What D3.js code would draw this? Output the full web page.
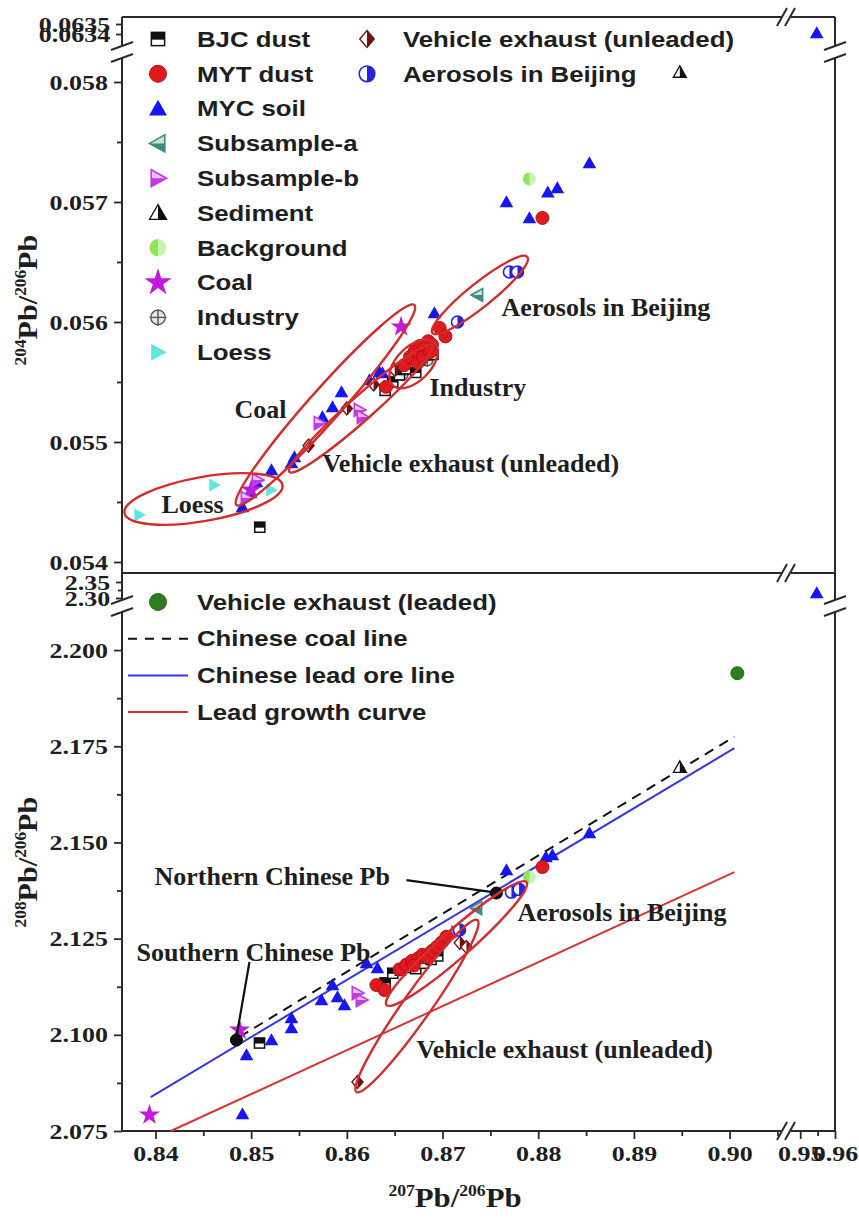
<!DOCTYPE html>
<html>
<head>
<meta charset="utf-8">
<script src="https://cdn.jsdelivr.net/npm/d3@7/dist/d3.min.js"></script>
<style>
  html, body { margin: 0; padding: 0; background: #ffffff; }
  svg { display: block; }
</style>
</head>
<body>
<svg id="chart" width="859" height="1226"></svg>
<script>
// ---------- tick values ----------
const xTicksLow  = [0.84, 0.85, 0.86, 0.87, 0.88, 0.89, 0.90];
const xMinorLow  = [0.845, 0.855, 0.865, 0.875, 0.885, 0.895, 0.905];
const xTicksHigh = [0.95, 0.96];
const xMinorHigh = [0.955];
const y204Ticks     = [0.054, 0.055, 0.056, 0.057, 0.058];
const y204Minor     = [0.0545, 0.0555, 0.0565, 0.0575];
const y204HighTicks = [0.0634, 0.0635];
const y208Ticks     = [2.075, 2.100, 2.125, 2.150, 2.175, 2.200];
const y208Minor     = [2.0875, 2.1125, 2.1375, 2.1625, 2.1875];
const y208HighTicks = [2.30, 2.35];
const y208HighMinor = [2.325];

// ---------- 207Pb/206Pb vs 204Pb/206Pb ----------
const bjcDust204 = [[0.8509,0.05429],[0.8640,0.05543],[0.8648,0.05550],[0.8655,0.05556],[0.8662,0.05561],
  [0.8668,0.05566],[0.8676,0.05569],[0.8683,0.05576],[0.8690,0.05573],[0.8672,0.05558]];
const mytDust204 = [[0.88044,0.056867],[0.8641,0.05546],[0.8660,0.05564],[0.8666,0.05571],[0.8671,0.05576],
  [0.8676,0.05580],[0.8681,0.05578],[0.8685,0.05584],[0.8689,0.05581],[0.8674,0.05566],[0.8680,0.05571],
  [0.8687,0.05575],[0.8697,0.05595],[0.8703,0.05588]];
const mycSoil204 = [[0.95475,0.06341],[0.88535,0.057325],[0.8820,0.057117],[0.8810,0.05708],[0.87668,0.05700],
  [0.87908,0.056867],[0.86915,0.056075],[0.86372,0.055575],[0.86341,0.055583],[0.86236,0.055517],
  [0.85944,0.055417],[0.8585,0.055292],[0.85745,0.055208],[0.85452,0.054875],[0.85421,0.054825],
  [0.85212,0.054767],[0.85055,0.054667],[0.84982,0.054575],[0.84909,0.054458]];
const subsampleA204 = [[0.87365,0.056225],[0.8670,0.05572]];
const subsampleB204 = [[0.86132,0.055267],[0.86163,0.055208],[0.85714,0.055158],[0.85066,0.054683],[0.84951,0.054533]];
const sediment204   = [[0.8948,0.05808],[0.8679,0.05568]];
const background204 = [[0.87908,0.057192]];
const coal204       = [[0.86567,0.05596],[0.8500,0.05460]];
const industry204   = [[0.8658,0.05556],[0.8670,0.05563],[0.8684,0.05568]];
const loess204      = [[0.84617,0.054642],[0.85212,0.05460],[0.83833,0.054392]];
const unleaded204   = [[0.8560,0.05497],[0.8600,0.05528],[0.8628,0.05548],[0.8650,0.05560]];
const aerosols204   = [[0.87699,0.056417],[0.87783,0.056417],[0.87156,0.05600]];

// ---------- 207Pb/206Pb vs 208Pb/206Pb ----------
const bjcDust208 = [[0.85087,2.09787],[0.8640,2.1135],[0.8648,2.1160],[0.8656,2.1168],[0.8664,2.1175],
  [0.8672,2.1172],[0.8680,2.1186],[0.8688,2.1196],[0.8695,2.1205]];
const mytDust208 = [[0.88044,2.14361],[0.86309,2.11294],[0.86393,2.11164],[0.8655,2.1170],[0.8662,2.1182],
  [0.8668,2.1192],[0.8674,2.1198],[0.8679,2.1208],[0.8684,2.1202],[0.8689,2.1218],[0.8694,2.1228],
  [0.8699,2.1240],[0.8704,2.1255],[0.8670,2.1180]];
const mycSoil208 = [[0.95475,2.3156],[0.88535,2.15244],[0.88148,2.14673],[0.8808,2.1462],[0.87668,2.14283],
  [0.84909,2.07942],[0.84951,2.09475],[0.85212,2.09865],[0.85421,2.10437],[0.85421,2.10177],[0.85735,2.10904],
  [0.8585,2.11294],[0.85902,2.10982],[0.85975,2.10774],[0.86205,2.11866],[0.8632,2.11736]];
const subsampleA208 = [[0.87354,2.13295]];
const subsampleB208 = [[0.86153,2.10904],[0.86111,2.11086],[0.8715,2.1265]];
const sediment208   = [[0.8948,2.1695]];
const background208 = [[0.87908,2.14101]];
const coal208       = [[0.83937,2.07916],[0.84878,2.10125]];
const industry208   = [[0.8668,2.1185],[0.8678,2.1195]];
const unleaded208   = [[0.86111,2.08773],[0.8718,2.1239],[0.8725,2.1228]];
const aerosols208   = [[0.8772,2.1371],[0.8780,2.1378],[0.87177,2.12724]];
const leaded208     = [[0.90081,2.194]];
const chinesePb208  = [[0.87563,2.13685],[0.84846,2.09865]];   // northern, southern

// reference lines (end points)
const coalLine     = [[0.8488,2.0995],[0.9005,2.1775]];
const leadOreLine  = [[0.8395,2.0838],[0.9005,2.1745]];
const growthCurve  = [[0.8416,2.075],[0.9005,2.1423]];

// source fields: tips of each ellipse's long axis
const fields204 = [
  {name:"Loess",    from:[0.83676,0.054408], to:[0.85327,0.054642]},
  {name:"Coal",     from:[0.84846,0.054475], to:[0.86706,0.056142]},
  {name:"Vehicle",  from:[0.85400,0.05475],  to:[0.86894,0.055808]},
  {name:"Industry", from:[0.86477,0.055475], to:[0.86915,0.055825]},
  {name:"Aerosols", from:[0.86894,0.055908], to:[0.87887,0.056542]}
];
const fields208 = [
  {name:"Aerosols", from:[0.86414,2.10774], to:[0.87877,2.13971]},
  {name:"Vehicle",  from:[0.86100,2.08513], to:[0.87365,2.12983]}
];

// annotation anchors (left edge, middle)
const notes204 = [
  {text:"Aerosols in Beijing",        at:[0.87615,0.056125]},
  {text:"Industry",                   at:[0.86863,0.055458]},
  {text:"Coal",                       at:[0.84826,0.055275]},
  {text:"Vehicle exhaust (unleaded)", at:[0.85745,0.054825]},
  {text:"Loess",                      at:[0.84063,0.054483]}
];
const notes208 = [
  {text:"Northern Chinese Pb",        at:[0.83990,2.14127]},
  {text:"Southern Chinese Pb",        at:[0.83801,2.1215]},
  {text:"Aerosols in Beijing",        at:[0.87783,2.13191]},
  {text:"Vehicle exhaust (unleaded)", at:[0.86727,2.09631]}
];
const pointers208 = [
  [[0.86623,2.14023],[0.87521,2.13711]],
  [[0.84982,2.11892],[0.84846,2.09943]]
];

// ---------- styles ----------
const SANS = "'Liberation Sans', Arial, sans-serif";
const SERIF = "'Liberation Serif', 'Times New Roman', serif";
const INK = "#1e1e1e";
const AXIS = "#2a2a2a";
const RED_RING = "#d22c2c";

const seriesStyle = {
  "BJC dust":                   {kind:"halfSquare", color:"#111111"},
  "MYT dust":                   {kind:"circle",     color:"#e0191f", edge:"#b21217"},
  "MYC soil":                   {kind:"triUp",      color:"#1616f0"},
  "Subsample-a":                {kind:"triLeft",    color:"#3e8a80", light:"#c6e3df"},
  "Subsample-b":                {kind:"triRight",   color:"#c03ce0", light:"#ecc0f8"},
  "Sediment":                   {kind:"triHalf",    color:"#111111"},
  "Background":                 {kind:"halfCircleG",color:"#8ee55a", light:"#c9f4ad"},
  "Coal":                       {kind:"star",       color:"#c21ad8"},
  "Industry":                   {kind:"crossCircle",color:"#555555"},
  "Loess":                      {kind:"triRightFull",color:"#5ee6e0"},
  "Vehicle exhaust (unleaded)": {kind:"halfDiamond",color:"#6b1414"},
  "Aerosols in Beijing":        {kind:"halfCircle", color:"#2424e0"},
  "Vehicle exhaust (leaded)":   {kind:"circle",     color:"#2f7d22", edge:"#2a6a1e"},
  "ref":                        {kind:"circle",     color:"#111111", edge:"#000"}
};

const panel204 = [
  ["MYC soil", mycSoil204], ["Loess", loess204], ["Coal", coal204], ["Subsample-a", subsampleA204],
  ["Subsample-b", subsampleB204], ["Sediment", sediment204], ["Industry", industry204],
  ["BJC dust", bjcDust204], ["Vehicle exhaust (unleaded)", unleaded204],
  ["Aerosols in Beijing", aerosols204], ["MYT dust", mytDust204], ["Background", background204]
];
const panel208 = [
  ["MYC soil", mycSoil208], ["Coal", coal208], ["Subsample-a", subsampleA208],
  ["Subsample-b", subsampleB208], ["Sediment", sediment208], ["Industry", industry208],
  ["BJC dust", bjcDust208], ["Vehicle exhaust (unleaded)", unleaded208],
  ["Aerosols in Beijing", aerosols208], ["MYT dust", mytDust208], ["Background", background208],
  ["Vehicle exhaust (leaded)", leaded208], ["ref", chinesePb208]
];

const legendCol1 = ["BJC dust","MYT dust","MYC soil","Subsample-a","Subsample-b","Sediment","Background","Coal","Industry","Loess"];
const legendCol2 = ["Vehicle exhaust (unleaded)","Aerosols in Beijing"];
const legend208  = ["Vehicle exhaust (leaded)","Chinese coal line","Chinese lead ore line","Lead growth curve"];

// ---------- scales (broken axes) ----------
const svg = d3.select("#chart");
svg.append("rect").attr("width", 859).attr("height", 1226).attr("fill", "#fff");

const L = 122, R = 835;
const TOP = 17, MID = 573, BOT = 1131;

const xLow  = d3.scaleLinear().domain([0.8365, 0.906]).range([L, 787]);
const xHigh = d3.scaleLinear().domain([0.9462, 0.96]).range([787, R]);
const X = v => v < 0.92 ? xLow(v) : xHigh(v);

const y204Low  = d3.scaleLinear().domain([0.0539083, 0.0582]).range([MID, 58]);
const y204High = d3.scaleLinear().domain([0.0634, 0.0635]).range([34, 24]);
const Y204 = v => v < 0.06 ? y204Low(v) : y204High(v);

const y208Low  = d3.scaleLinear().domain([2.075, 2.2099]).range([BOT, 612]);
const y208High = d3.scaleLinear().domain([2.30, 2.35]).range([598, 582]);
const Y208 = v => v < 2.25 ? y208Low(v) : y208High(v);

// ---------- markers ----------
function path(pts) { return "M" + pts.map(p => p.join(",")).join("L") + "Z"; }

function marker(g, name, cx, cy, s) {
  const st = seriesStyle[name];
  const c = st.color;
  const m = g.append("g").attr("transform", `translate(${cx},${cy})`);
  switch (st.kind) {
    case "halfSquare": {
      const h = s * 0.78;
      m.append("rect").attr("x", -h).attr("y", -h).attr("width", 2*h).attr("height", 2*h)
        .attr("fill", "#fff").attr("stroke", c).attr("stroke-width", 1.5);
      m.append("rect").attr("x", -h).attr("y", -h).attr("width", 2*h).attr("height", h*1.1).attr("fill", c);
      break;
    }
    case "circle":
      m.append("circle").attr("r", s).attr("fill", c).attr("stroke", st.edge || c).attr("stroke-width", 1);
      break;
    case "triUp":
      m.append("path").attr("d", path([[0,-s*1.05],[s*1.05,s*0.8],[-s*1.05,s*0.8]])).attr("fill", c);
      break;
    case "triHalf": {
      const pts = [[0,-s],[s,s*0.75],[-s,s*0.75]];
      m.append("path").attr("d", path(pts)).attr("fill", "#fff").attr("stroke", c).attr("stroke-width", 1.3);
      m.append("path").attr("d", path([[0,-s],[s,s*0.75],[0,s*0.75]])).attr("fill", c);
      break;
    }
    case "triLeft":
      m.append("path").attr("d", path([[-s,0],[s*0.8,-s],[s*0.8,s]])).attr("fill", st.light)
        .attr("stroke", c).attr("stroke-width", 1.6);
      m.append("path").attr("d", path([[-s,0],[s*0.8,0],[s*0.8,s]])).attr("fill", c);
      break;
    case "triRight":
      m.append("path").attr("d", path([[s,0],[-s*0.8,-s],[-s*0.8,s]])).attr("fill", st.light)
        .attr("stroke", c).attr("stroke-width", 1.6);
      m.append("path").attr("d", path([[s,0],[-s*0.8,0],[-s*0.8,s]])).attr("fill", c);
      break;
    case "triRightFull":
      m.append("path").attr("d", path([[s,0],[-s*0.8,-s],[-s*0.8,s]])).attr("fill", c);
      break;
    case "halfCircleG":
      m.append("circle").attr("r", s).attr("fill", st.light);
      m.append("path").attr("d", `M0,${-s}A${s},${s} 0 0 0 0,${s}Z`).attr("fill", c);
      break;
    case "star":
      m.append("path").attr("d", d3.symbol(d3.symbolStar, s * s * 3.2)()).attr("fill", c);
      break;
    case "crossCircle":
      m.append("circle").attr("r", s*0.85).attr("fill", "#e6e6e6").attr("stroke", c).attr("stroke-width", 1.4);
      m.append("path").attr("d", `M${-s},0H${s}M0,${-s}V${s}`).attr("stroke", c).attr("stroke-width", 1.4);
      break;
    case "halfDiamond":
      m.append("path").attr("d", path([[0,-s],[s*0.85,0],[0,s],[-s*0.85,0]])).attr("fill", "#fff")
        .attr("stroke", c).attr("stroke-width", 1.4);
      m.append("path").attr("d", path([[0,-s],[s*0.85,0],[0,s]])).attr("fill", c);
      break;
    case "halfCircle":
      m.append("circle").attr("r", s*0.92).attr("fill", "#fff").attr("stroke", c).attr("stroke-width", 1.6);
      m.append("path").attr("d", `M0,${-s*0.92}A${s*0.92},${s*0.92} 0 0 1 0,${s*0.92}Z`).attr("fill", c);
      break;
  }
}

// ---------- frame with breaks ----------
const frame = svg.append("g").attr("stroke", AXIS).attr("stroke-width", 2).attr("fill", "none");
function seg(x1, y1, x2, y2) { frame.append("line").attr("x1", x1).attr("y1", y1).attr("x2", x2).attr("y2", y2); }
const XB = 786;   // horizontal break position
[TOP, MID, BOT].forEach(y => {
  seg(L, y, XB - 5, y); seg(XB + 5, y, R, y);
  [-4, 4].forEach(o => seg(XB + o - 5, y + 9, XB + o + 5, y - 9));
});
const vBreaks = [[46, 58], [600, 612]];
[L, R].forEach(x => {
  seg(x, TOP, x, 46); seg(x, 58, x, MID);
  seg(x, MID, x, 600); seg(x, 612, x, BOT);
  vBreaks.forEach(([a, b]) => {
    [a, b].forEach(yy => seg(x - 11, yy + 4, x + 11, yy - 4));
  });
});

// ---------- axes ----------
function styleAxis(g, withText) {
  g.select(".domain").remove();
  g.selectAll(".tick line").attr("stroke", AXIS).attr("stroke-width", 1.8);
  if (withText) {
    g.selectAll(".tick text").attr("font-family", SERIF).attr("font-weight", "bold")
      .attr("font-size", 22).attr("fill", INK).attr("transform", "scale(1.18,1)");
  } else {
    g.selectAll(".tick text").remove();
  }
}
function leftAxis(scale, values, fmt, size) {
  const g = svg.append("g").attr("transform", `translate(${L},0)`)
    .call(d3.axisLeft(scale).tickValues(values).tickSize(size).tickPadding(4).tickFormat(fmt || (() => "")));
  styleAxis(g, !!fmt);
}
function bottomAxis(scale, values, fmt, size) {
  const g = svg.append("g").attr("transform", `translate(0,${BOT})`)
    .call(d3.axisBottom(scale).tickValues(values).tickSize(size).tickPadding(6).tickFormat(fmt || (() => "")));
  styleAxis(g, !!fmt);
}
leftAxis(y204Low, y204Ticks, d3.format(".3f"), 8);
leftAxis(y204Low, y204Minor, null, 5);
leftAxis(y204High, y204HighTicks, d3.format(".4f"), 6);
leftAxis(y208Low, y208Ticks, d3.format(".3f"), 8);
leftAxis(y208Low, y208Minor, null, 5);
leftAxis(y208High, y208HighTicks, d3.format(".2f"), 6);
leftAxis(y208High, y208HighMinor, null, 4);
bottomAxis(xLow, xTicksLow, d3.format(".2f"), 8);
bottomAxis(xLow, xMinorLow, null, 5);
bottomAxis(xHigh, xTicksHigh, d3.format(".2f"), 8);
bottomAxis(xHigh, xMinorHigh, null, 5);

// ---------- axis titles ----------
function isoTitle(g, sup1, sup2) {
  const t = g.append("text").attr("font-family", SERIF).attr("font-weight", "bold")
    .attr("font-size", 28).attr("fill", INK).attr("text-anchor", "middle");
  t.append("tspan").attr("font-size", 16).attr("dy", -11).text(sup1);
  t.append("tspan").attr("dy", 11).text("Pb/");
  t.append("tspan").attr("font-size", 16).attr("dy", -11).text(sup2);
  t.append("tspan").attr("dy", 11).text("Pb");
}
isoTitle(svg.append("g").attr("transform", "translate(37,300) rotate(-90) scale(1.08,1)"), "204", "206");
isoTitle(svg.append("g").attr("transform", "translate(37,862) rotate(-90) scale(1.08,1)"), "208", "206");
isoTitle(svg.append("g").attr("transform", "translate(455,1207) scale(1.1,1)"), "207", "206");

// ---------- reference lines (lower panel) ----------
const line208 = d3.line().x(d => X(d[0])).y(d => Y208(d[1]));
svg.append("path").attr("d", line208(growthCurve)).attr("fill", "none").attr("stroke", "#d83434").attr("stroke-width", 2);
svg.append("path").attr("d", line208(leadOreLine)).attr("fill", "none").attr("stroke", "#3434e2").attr("stroke-width", 2);
svg.append("path").attr("d", line208(coalLine)).attr("fill", "none").attr("stroke", "#111").attr("stroke-width", 2)
  .attr("stroke-dasharray", "10,7");

// ---------- points ----------
const pts = svg.append("g");
panel204.forEach(([name, data]) => data.forEach(d => marker(pts, name, X(d[0]), Y204(d[1]), 6.5)));
panel208.forEach(([name, data]) => data.forEach(d => marker(pts, name, X(d[0]), Y208(d[1]), name === "ref" ? 6 : 6.5)));

// ---------- source field ellipses ----------
const ringWidth204 = {Loess: 22, Coal: 16, Vehicle: 12, Industry: 17, Aerosols: 12};
const ringWidth208 = {Aerosols: 14, Vehicle: 14};
function ring(f, ys, widths) {
  const x1 = X(f.from[0]), y1 = ys(f.from[1]), x2 = X(f.to[0]), y2 = ys(f.to[1]);
  const cx = (x1 + x2) / 2, cy = (y1 + y2) / 2;
  const a = Math.hypot(x2 - x1, y2 - y1) / 2;
  const ang = Math.atan2(y2 - y1, x2 - x1) * 180 / Math.PI;
  svg.append("ellipse").attr("rx", a).attr("ry", widths[f.name])
    .attr("transform", `translate(${cx},${cy}) rotate(${ang})`)
    .attr("fill", "none").attr("stroke", RED_RING).attr("stroke-width", 2.4);
}
fields204.forEach(f => ring(f, Y204, ringWidth204));
fields208.forEach(f => ring(f, Y208, ringWidth208));

// ---------- annotations ----------
function note(n, ys) {
  svg.append("text").attr("x", X(n.at[0])).attr("y", ys(n.at[1])).attr("dy", "0.35em")
    .attr("font-family", SERIF).attr("font-weight", "bold").attr("font-size", 26)
    .attr("fill", INK).text(n.text);
}
notes204.forEach(n => note(n, Y204));
notes208.forEach(n => note(n, Y208));
pointers208.forEach(p => svg.append("path").attr("d", line208(p)).attr("fill", "none")
  .attr("stroke", "#111").attr("stroke-width", 2.2));

// ---------- legends ----------
function legendText(x, y, label) {
  svg.append("text").attr("transform", `translate(${x},${y}) scale(1.2,1)`).attr("dy", "0.36em")
    .attr("font-family", SANS).attr("font-weight", "bold").attr("font-size", 21.5)
    .attr("fill", INK).text(label);
}
const legG = svg.append("g");
legendCol1.forEach((name, i) => {
  const y = 39 + i * 34.8;
  marker(legG, name, 158, y, 8.5);
  legendText(197, y, name);
});
legendCol2.forEach((name, i) => {
  const y = 39 + i * 34.8;
  marker(legG, name, 367, y, 8.5);
  legendText(403, y, name);
});
legend208.forEach((name, i) => {
  const y = 602 + i * 36.7;
  if (i === 0) marker(legG, name, 158, y, 8.5);
  else {
    const stroke = i === 1 ? "#111" : (i === 2 ? "#3434e2" : "#d83434");
    legG.append("line").attr("x1", 128).attr("x2", 188).attr("y1", y).attr("y2", y)
      .attr("stroke", stroke).attr("stroke-width", 2).attr("stroke-dasharray", i === 1 ? "9,8" : null);
  }
  legendText(197, y, name);
});
</script>
</body>
</html>
